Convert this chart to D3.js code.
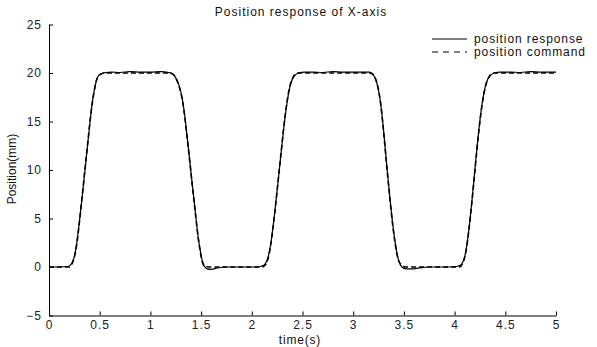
<!DOCTYPE html>
<html>
<head>
<meta charset="utf-8">
<script src="https://cdn.jsdelivr.net/npm/d3@7"></script>
<style>
  html, body { margin: 0; padding: 0; background: #fff; }
  svg { display: block; font-family: "Liberation Sans", Arial, sans-serif; }
</style>
</head>
<body>
<svg id="chart" width="597" height="347"></svg>
<script>
// measured response (time in s, position in mm)
const respTime = [0, 0.1, 0.18, 0.21, 0.23, 0.25, 0.27, 0.29, 0.31, 0.33, 0.35, 0.37, 0.39, 0.41, 0.43, 0.45, 0.47, 0.49, 0.52, 0.56, 0.62, 0.7, 0.8, 0.9, 1.0, 1.1,
  1.18, 1.22, 1.25, 1.28, 1.31, 1.33, 1.35, 1.37, 1.39, 1.41, 1.43, 1.45, 1.47, 1.49, 1.51, 1.53, 1.56, 1.60, 1.66, 1.75, 1.85, 1.95, 2.05,
  2.10, 2.13, 2.15, 2.17, 2.19, 2.21, 2.23, 2.25, 2.27, 2.29, 2.31, 2.33, 2.35, 2.37, 2.39, 2.42, 2.46, 2.52, 2.6, 2.7, 2.8, 2.9, 3.0, 3.1,
  3.16, 3.19, 3.21, 3.23, 3.25, 3.27, 3.29, 3.31, 3.33, 3.35, 3.37, 3.39, 3.41, 3.43, 3.45, 3.48, 3.52, 3.58, 3.65, 3.75, 3.85, 3.95, 4.02,
  4.06, 4.08, 4.10, 4.12, 4.14, 4.16, 4.18, 4.20, 4.22, 4.24, 4.26, 4.28, 4.30, 4.32, 4.35, 4.39, 4.45, 4.55, 4.65, 4.75, 4.85, 4.95, 5.0];
const respValue = [0, 0, 0.05, 0.2, 0.5, 1.1, 2.2, 3.8, 5.6, 7.5, 9.5, 11.5, 13.5, 15.5, 17.2, 18.4, 19.3, 19.75, 19.95, 20.05, 20.1, 20.05, 20.15, 20.1, 20.1, 20.15,
  20.05, 19.9, 19.5, 18.8, 17.6, 16.3, 14.6, 12.7, 10.8, 8.8, 7.0, 5.0, 3.2, 1.8, 0.7, 0.1, -0.2, -0.25, -0.1, 0, 0, 0, 0,
  0.1, 0.3, 0.7, 1.4, 2.6, 4.2, 6.0, 7.9, 9.9, 11.9, 13.8, 15.6, 17.1, 18.3, 19.1, 19.7, 20.0, 20.1, 20.1, 20.05, 20.15, 20.1, 20.1, 20.1,
  20.1, 19.9, 19.6, 19.1, 18.2, 16.9, 15.1, 12.9, 10.6, 8.4, 6.3, 4.4, 2.8, 1.5, 0.6, 0.0, -0.2, -0.2, -0.1, 0, 0, 0, 0.05,
  0.2, 0.5, 1.1, 2.2, 3.8, 5.7, 7.8, 10.0, 12.2, 14.2, 16.0, 17.4, 18.5, 19.2, 19.7, 20.0, 20.1, 20.1, 20.05, 20.15, 20.1, 20.1, 20.1];

// position command
const cmdTime = [0, 0.2, 0.23, 0.25, 0.27, 0.29, 0.31, 0.33, 0.35, 0.37, 0.39, 0.41, 0.43, 0.45, 0.47, 0.50, 0.55, 1.18,
  1.22, 1.25, 1.28, 1.31, 1.33, 1.35, 1.37, 1.39, 1.41, 1.43, 1.45, 1.47, 1.49, 1.51, 1.54, 1.60, 2.10,
  2.14, 2.17, 2.19, 2.21, 2.23, 2.25, 2.27, 2.29, 2.31, 2.33, 2.35, 2.37, 2.40, 2.45, 3.16,
  3.19, 3.22, 3.25, 3.27, 3.29, 3.31, 3.33, 3.35, 3.37, 3.39, 3.41, 3.43, 3.46, 3.52, 4.05,
  4.08, 4.10, 4.12, 4.14, 4.16, 4.18, 4.20, 4.22, 4.24, 4.26, 4.28, 4.30, 4.33, 4.38, 5.0];
const cmdValue = [0, 0, 0.4, 1.0, 2.1, 3.7, 5.6, 7.6, 9.6, 11.6, 13.6, 15.5, 17.1, 18.4, 19.3, 19.8, 20.0, 20.0,
  19.9, 19.5, 18.7, 17.5, 16.2, 14.5, 12.6, 10.7, 8.7, 6.8, 4.9, 3.1, 1.7, 0.6, 0.05, 0, 0,
  0.3, 1.3, 2.5, 4.1, 5.9, 7.9, 9.9, 11.9, 13.9, 15.7, 17.2, 18.4, 19.4, 20.0, 20.0,
  19.9, 19.4, 18.2, 16.9, 15.0, 12.8, 10.5, 8.3, 6.2, 4.3, 2.7, 1.4, 0.4, 0, 0,
  0.4, 1.0, 2.1, 3.7, 5.6, 7.7, 9.9, 12.1, 14.1, 15.9, 17.3, 18.4, 19.4, 20.0, 20.0];

const xTicks = [0, 0.5, 1, 1.5, 2, 2.5, 3, 3.5, 4, 4.5, 5];
const yTicks = [-5, 0, 5, 10, 15, 20, 25];

const seriesNames = ['position response', 'position command'];
const titleText = 'Position response of X-axis';
const xLabel = 'time(s)';
const yLabel = 'Position(mm)';

const width = 597, height = 347;
const margin = { top: 24.5, right: 41, bottom: 31.5, left: 49 };

const svg = d3.select('#chart');

const x = d3.scaleLinear().domain([0, 5]).range([margin.left, width - margin.right]);
const y = d3.scaleLinear().domain([-5, 25]).range([height - margin.bottom, margin.top]);

const line = d3.line()
  .x(d => x(d[0]))
  .y(d => y(d[1]))
  .curve(d3.curveMonotoneX);

const resp = respTime.map((t, i) => [t, respValue[i]]);
const cmd = cmdTime.map((t, i) => [t, cmdValue[i]]);

// command first, response on top
svg.append('path')
  .datum(cmd)
  .attr('fill', 'none')
  .attr('stroke', '#000')
  .attr('stroke-width', 1.6)
  .attr('stroke-dasharray', '5,3')
  .attr('d', line);

svg.append('path')
  .datum(resp)
  .attr('fill', 'none')
  .attr('stroke', '#000')
  .attr('stroke-width', 1.2)
  .attr('d', line);

// axes, ticks pointing inward like the original
const xAxis = d3.axisBottom(x)
  .tickValues(xTicks)
  .tickSizeInner(-4)
  .tickSizeOuter(0)
  .tickPadding(5)
  .tickFormat(d3.format('~g'));

const yAxis = d3.axisLeft(y)
  .tickValues(yTicks)
  .tickSizeInner(-4)
  .tickSizeOuter(0)
  .tickPadding(7)
  .tickFormat(d3.format('~g'));

const gx = svg.append('g')
  .attr('transform', `translate(0,${height - margin.bottom})`)
  .call(xAxis);

const gy = svg.append('g')
  .attr('transform', `translate(${margin.left},0)`)
  .call(yAxis);

[gx, gy].forEach(g => {
  g.selectAll('.domain').attr('stroke', '#000');
  g.selectAll('.tick line').attr('stroke', '#000');
  g.selectAll('text')
    .attr('fill', '#222')
    .style('font-size', '12px')
    .style('letter-spacing', '1px')
    .style('font-family', '"Liberation Sans", Arial, sans-serif');
});

svg.append('text')
  .attr('x', 301)
  .attr('y', 16)
  .attr('text-anchor', 'middle')
  .style('font-size', '12px')
  .style('letter-spacing', '1px')
  .attr('fill', '#111')
  .text(titleText);

svg.append('text')
  .attr('x', 300)
  .attr('y', 344)
  .attr('text-anchor', 'middle')
  .style('font-size', '12px')
  .style('letter-spacing', '0.8px')
  .attr('fill', '#111')
  .text(xLabel);

svg.append('text')
  .attr('transform', `translate(16,169) rotate(-90)`)
  .attr('text-anchor', 'middle')
  .style('font-size', '12px')
  .attr('fill', '#111')
  .text(yLabel);

// legend
const legend = svg.append('g');
seriesNames.forEach((name, i) => {
  const ly = 39 + i * 13;
  legend.append('line')
    .attr('x1', 432).attr('x2', 467)
    .attr('y1', ly).attr('y2', ly)
    .attr('stroke', '#000')
    .attr('stroke-width', 1)
    .attr('stroke-dasharray', i === 1 ? '6,5' : null);
  legend.append('text')
    .attr('x', 474)
    .attr('y', ly + 4)
    .style('font-size', '12px')
    .style('letter-spacing', '0.9px')
    .attr('fill', '#111')
    .text(name);
});
</script>
</body>
</html>
